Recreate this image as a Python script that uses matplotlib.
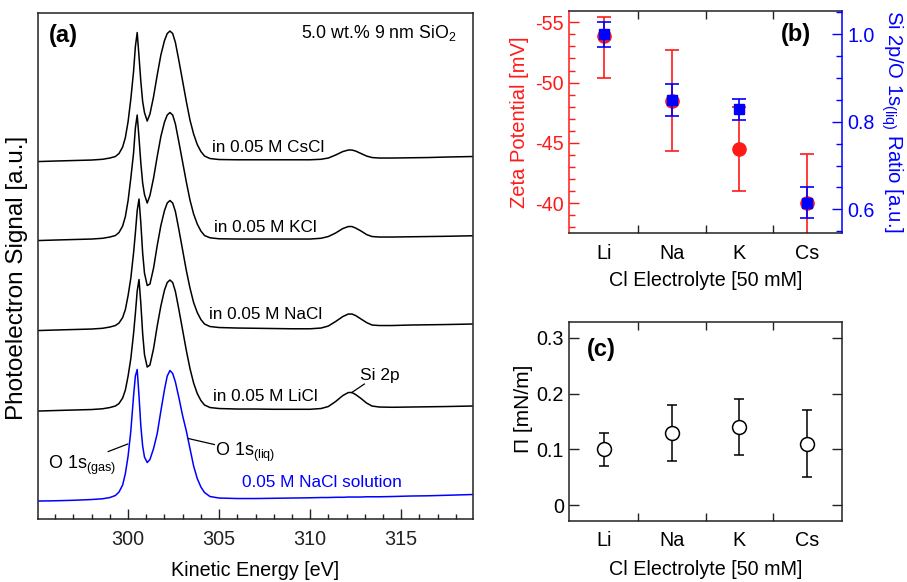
import matplotlib
matplotlib.use("Agg")
import matplotlib.pyplot as plt
from matplotlib.ticker import MultipleLocator, FixedLocator, FuncFormatter

plt.rcParams['font.family'] = ['Liberation Sans', 'DejaVu Sans']
plt.rcParams['mathtext.fontset'] = 'custom'
plt.rcParams['mathtext.rm'] = 'Liberation Sans'
plt.rcParams['mathtext.it'] = 'Liberation Sans:italic'
plt.rcParams['axes.unicode_minus'] = False

# ---- panel (a): O 1s / Si 2p spectra (kinetic energy in eV, signal in a.u.)
energy = [295.1, 296, 297, 298, 298.6, 299.0, 299.3, 299.5, 299.7, 299.85,
          300.0, 300.15, 300.3, 300.4, 300.5, 300.6, 300.7, 300.8, 300.9, 301.05,
          301.2, 301.4, 301.6, 301.8, 302.0, 302.15, 302.3, 302.45, 302.6, 302.8,
          303.0, 303.2, 303.4, 303.6, 303.8, 304.0, 304.2, 304.5, 305.0, 306,
          307, 308, 309, 310, 310.6, 311.0, 311.4, 311.8, 312.1, 312.3,
          312.5, 312.8, 313.1, 313.4, 313.8, 314.5, 315.5, 316.5, 317.5, 318.9]

spec_nacl_solution = [0, 0.05, 0.15, 0.3, 0.45, 0.7, 1.1, 1.8, 3.2, 5.5,
                      9, 14, 21, 25, 26.3, 21, 15, 11, 8.8, 7.7,
                      8.3, 10.5, 13.5, 18, 22.3, 25, 26.1, 25.5, 23.8, 20.5,
                      17, 14, 10.5, 7, 4.5, 2.8, 1.7, 0.9, 0.6, 0.5,
                      0.5, 0.55, 0.6, 0.65, 0.7, 0.7, 0.75, 0.75, 0.8, 0.8,
                      0.8, 0.8, 0.85, 0.85, 0.85, 0.9, 1.0, 1.05, 1.15, 1.3]

spec_licl = [0, 0.1, 0.2, 0.3, 0.45, 0.7, 1.0, 1.5, 2.6, 4.2,
             7.0, 10.5, 15.5, 19.5, 24.0, 26.3, 21.5, 15.5, 11.3, 8.8,
             9.2, 12.5, 17.0, 21.0, 24.2, 25.7, 26.2, 25.7, 23.9, 20.1,
             16.1, 12.1, 8.5, 5.6, 3.5, 2.1, 1.2, 0.7, 0.5, 0.4,
             0.4, 0.35, 0.35, 0.35, 0.5, 0.9, 1.9, 3.1, 3.7, 3.7,
             3.3, 2.5, 1.6, 1.0, 0.8, 0.75, 0.8, 0.85, 0.9, 1.0]

spec_nacl = [0, 0.1, 0.2, 0.3, 0.45, 0.7, 1.0, 1.5, 2.6, 4.2,
             7.0, 10.5, 15.5, 19.5, 24.0, 26.3, 21.5, 15.5, 11.5, 9.0,
             9.3, 12.5, 17.0, 21.0, 24.0, 25.5, 26.0, 25.5, 23.8, 20.0,
             16.0, 12.0, 8.5, 5.6, 3.6, 2.2, 1.3, 0.8, 0.6, 0.5,
             0.45, 0.4, 0.35, 0.35, 0.5, 0.9, 1.8, 2.8, 3.3, 3.3,
             3.0, 2.3, 1.6, 1.1, 1.0, 1.0, 1.1, 1.15, 1.2, 1.3]

spec_kcl = [0, 0.1, 0.2, 0.3, 0.45, 0.7, 1.0, 1.6, 2.9, 4.8,
            8.0, 12.5, 17.5, 22.5, 25.1, 20.5, 15.5, 11.5, 9.2, 7.5,
            9.0, 12.5, 16.8, 20.8, 23.7, 25.1, 25.6, 25.1, 23.3, 19.5,
            15.6, 11.7, 8.1, 5.3, 3.3, 1.9, 1.0, 0.55, 0.35, 0.3,
            0.3, 0.3, 0.3, 0.3, 0.45, 0.8, 1.5, 2.4, 2.8, 2.8,
            2.5, 1.9, 1.2, 0.8, 0.7, 0.7, 0.75, 0.8, 0.85, 0.95]

spec_cscl = [0, 0.1, 0.2, 0.3, 0.45, 0.7, 1.0, 1.6, 2.9, 4.8,
             8.0, 12.5, 18, 23, 25.8, 21, 16, 12, 9.8, 8.1,
             9.5, 13, 17.3, 21.3, 24.2, 25.6, 26.1, 25.6, 23.8, 20,
             16, 12, 8.3, 5.5, 3.4, 2.0, 1.1, 0.6, 0.4, 0.35,
             0.35, 0.35, 0.35, 0.35, 0.45, 0.7, 1.3, 2.0, 2.3, 2.3,
             2.1, 1.6, 1.1, 0.8, 0.7, 0.7, 0.75, 0.8, 0.9, 1.0]

# vertical stacking offsets (a.u.)
offsets = {'solution': 3.6, 'LiCl': 21.6, 'NaCl': 37.7, 'KCl': 55.7, 'CsCl': 71.5}

# ---- panels (b) and (c)
ions = ['Li', 'Na', 'K', 'Cs']
zeta = [-53.85, -48.5, -44.5, -40.0]
zeta_err_minus = [1.55, 4.2, 3.5, 4.05]
zeta_err_plus = [3.45, 4.2, 3.5, 4.05]
si_ratio = [1.0, 0.85, 0.829, 0.615]
si_ratio_err = [0.028, 0.037, 0.024, 0.035]
surf_pressure = [0.10, 0.13, 0.14, 0.11]
surf_pressure_err = [0.03, 0.05, 0.05, 0.06]

RED = '#ff1a1a'
BLUE = '#0000ff'
SPINE = '#222222'
FS = 14.2

fig = plt.figure(figsize=(9.07, 5.82), dpi=100)

# ================= (a)
ax_a = fig.add_axes([0.0419, 0.1082, 0.4796, 0.8694])
for key, spec in [('CsCl', spec_cscl), ('KCl', spec_kcl), ('NaCl', spec_nacl), ('LiCl', spec_licl)]:
    ax_a.plot(energy, [v + offsets[key] for v in spec], color='black', lw=1.1)
ax_a.plot(energy, [v + offsets['solution'] for v in spec_nacl_solution], color=BLUE, lw=1.1)

ax_a.set_xlim(295.05, 318.95)
ax_a.set_ylim(0, 101.2)
ax_a.set_yticks([])
ax_a.xaxis.set_major_locator(MultipleLocator(5))
ax_a.xaxis.set_minor_locator(MultipleLocator(1))
ax_a.tick_params(axis='x', which='major', direction='in', length=7, width=1, labelsize=FS, pad=8, colors=SPINE)
ax_a.tick_params(axis='x', which='minor', direction='in', length=3.3, width=1, colors=SPINE)
for sp in ax_a.spines.values():
    sp.set_linewidth(1.1)
    sp.set_color(SPINE)
ax_a.set_xlabel('Kinetic Energy [eV]', fontsize=FS, labelpad=8.5)
ax_a.set_ylabel('Photoelectron Signal [a.u.]', fontsize=17.5)
ax_a.yaxis.set_label_coords(-0.022, 0.476)

ax_a.text(295.65, 96.8, '(a)', fontsize=17, fontweight='bold', ha='left', va='center')
ax_a.text(318.05, 97.2, '5.0 wt.% 9 nm SiO$_2$', fontsize=12.8, ha='right', va='center')
ax_a.text(304.61, 74.4, 'in 0.05 M CsCl', fontsize=12.3, ha='left', va='center')
ax_a.text(304.72, 58.4, 'in 0.05 M KCl', fontsize=12.3, ha='left', va='center')
ax_a.text(304.45, 41.0, 'in 0.05 M NaCl', fontsize=12.3, ha='left', va='center')
ax_a.text(304.67, 24.5, 'in 0.05 M LiCl', fontsize=12.3, ha='left', va='center')
ax_a.text(312.74, 28.8, 'Si 2p', fontsize=12.5, ha='left', va='center')
ax_a.plot([312.29, 312.98], [25.3, 27.0], color='black', lw=0.9)
ax_a.text(295.6, 10.1, 'O 1s$_{\\mathrm{(gas)}}$', fontsize=13, ha='left', va='baseline')
ax_a.plot([298.91, 299.98], [13.5, 15.0], color='black', lw=0.9)
ax_a.text(304.78, 12.6, 'O 1s$_{\\mathrm{(liq)}}$', fontsize=13, ha='left', va='baseline')
ax_a.plot([303.31, 304.74], [16.1, 14.9], color='black', lw=0.9)
ax_a.text(306.26, 7.3, '0.05 M NaCl solution', fontsize=12.4, color=BLUE, ha='left', va='center')

xpos = list(range(len(ions)))


def style_category_axis(ax, tick_pad, label_pad):
    ax.set_xlim(-0.52, 3.52)
    ax.set_xticks(xpos)
    ax.set_xticklabels(ions)
    ax.xaxis.set_minor_locator(FixedLocator([0.5, 1.5, 2.5]))
    ax.tick_params(axis='x', which='major', length=0, labelsize=FS, pad=tick_pad)
    ax.tick_params(axis='x', which='minor', direction='in', length=5.5, width=1,
                   top=True, bottom=True, color=SPINE)
    for sp in ax.spines.values():
        sp.set_linewidth(1.1)
        sp.set_color(SPINE)
    ax.set_xlabel('Cl Electrolyte [50 mM]', fontsize=FS, labelpad=label_pad)


# ================= (b)
ax_b = fig.add_axes([0.6277, 0.5997, 0.3003, 0.3819])
ax_b.errorbar(xpos, zeta, yerr=[zeta_err_minus, zeta_err_plus], fmt='o', color=RED,
              ms=9.5, capsize=5, elinewidth=1.2, capthick=1.2)
style_category_axis(ax_b, 8, 6)
ax_b.set_ylim(-37.54, -55.96)
ax_b.yaxis.set_major_locator(MultipleLocator(5))
ax_b.yaxis.set_minor_locator(MultipleLocator(1))
ax_b.tick_params(axis='y', which='major', direction='in', length=7.5, width=1,
                 colors=RED, labelsize=FS, pad=4)
ax_b.tick_params(axis='y', which='minor', direction='in', length=4, width=1, colors=RED)
ax_b.spines['left'].set_color(RED)
ax_b.spines['right'].set_visible(False)
ax_b.set_ylabel('Zeta Potential [mV]', color=RED, fontsize=14.5, labelpad=4)
ax_b.text(0.831, 0.895, '(b)', transform=ax_b.transAxes, fontsize=17,
          fontweight='bold', ha='center', va='center')

ax_r = ax_b.twinx()
ax_r.errorbar(xpos, si_ratio, yerr=si_ratio_err, fmt='s', color=BLUE,
              ms=6.5, capsize=5, elinewidth=1.2, capthick=1.2)
ax_r.set_ylim(0.546, 1.054)
ax_r.yaxis.set_major_locator(MultipleLocator(0.2))
ax_r.yaxis.set_minor_locator(MultipleLocator(0.05))
ax_r.yaxis.set_major_formatter(FuncFormatter(lambda v, p: f'{v:.1f}'))
ax_r.tick_params(axis='y', which='major', direction='in', length=7.5, width=1,
                 colors=BLUE, labelsize=FS, pad=4)
ax_r.tick_params(axis='y', which='minor', direction='in', length=4, width=1, colors=BLUE)
for side in ['left', 'top', 'bottom']:
    ax_r.spines[side].set_visible(False)
ax_r.spines['right'].set_color(BLUE)
ax_r.spines['right'].set_linewidth(1.1)
ax_r.set_ylabel('Si 2p/O 1s$_{\\mathrm{(liq)}}$ Ratio [a.u.]', color=BLUE, fontsize=14.6,
                rotation=270, va='bottom', labelpad=3)

# ================= (c)
ax_c = fig.add_axes([0.6277, 0.1048, 0.3003, 0.3425])
ax_c.errorbar(xpos, surf_pressure, yerr=surf_pressure_err, fmt='o', color='black',
              mfc='white', mec='black', mew=1.1, ms=10, capsize=3.5,
              elinewidth=1.1, capthick=1.1)
style_category_axis(ax_c, 7, 7.5)
ax_c.set_ylim(-0.028, 0.3286)
ax_c.set_yticks([0, 0.1, 0.2, 0.3])
ax_c.yaxis.set_major_formatter(FuncFormatter(lambda v, p: '0' if abs(v) < 1e-9 else f'{v:.1f}'))
ax_c.tick_params(axis='y', which='major', direction='in', length=7.5, width=1,
                 left=True, right=True, labelsize=FS, color=SPINE, pad=4)
ax_c.set_ylabel('\u03a0 [mN/m]', fontsize=15, labelpad=4)
ax_c.yaxis.set_label_coords(-0.132, 0.562)
ax_c.text(0.116, 0.858, '(c)', transform=ax_c.transAxes, fontsize=17,
          fontweight='bold', ha='center', va='center')

fig.savefig('out.png', dpi=100)
